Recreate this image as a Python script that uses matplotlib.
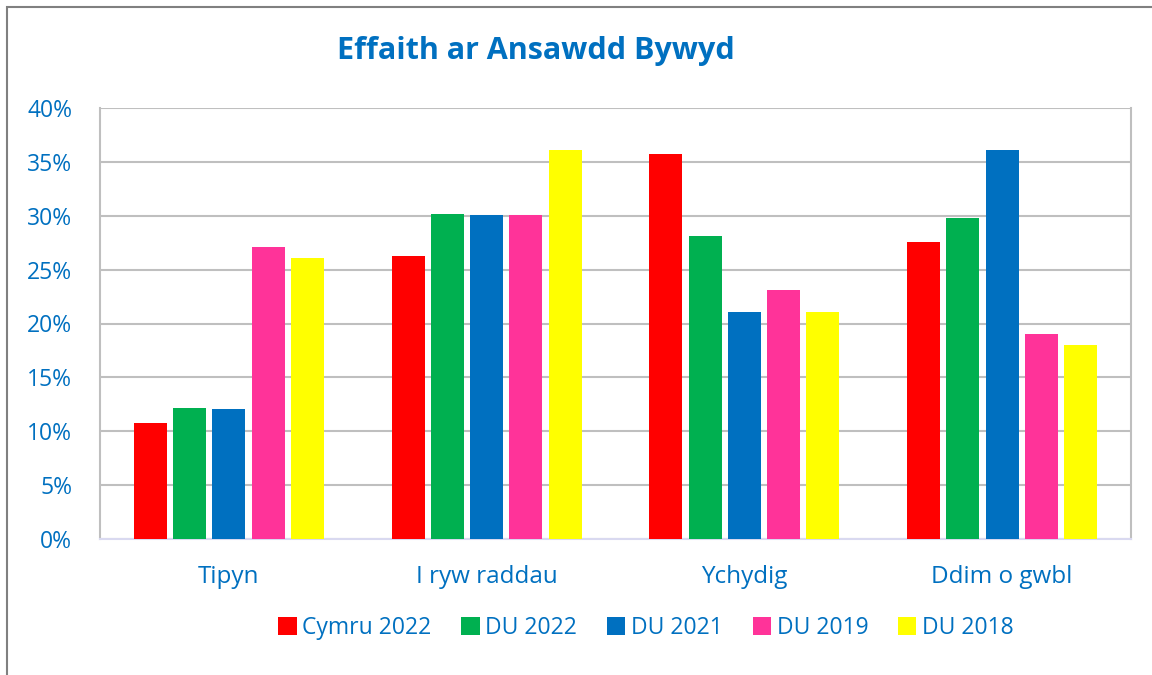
import numpy as np
import matplotlib.pyplot as plt
from matplotlib.patches import Rectangle

# Data
categories = ['Tipyn', 'I ryw raddau', 'Ychydig', 'Ddim o gwbl']
series_names = ['Cymru 2022', 'DU 2022', 'DU 2021', 'DU 2019', 'DU 2018']
cymru_2022 = [10.8, 26.3, 35.7, 27.6]
du_2022 = [12.2, 30.2, 28.1, 29.8]
du_2021 = [12.1, 30.1, 21.1, 36.1]
du_2019 = [27.1, 30.1, 23.1, 19.0]
du_2018 = [26.1, 36.1, 21.1, 18.0]
colours = ['#FF0000', '#00B050', '#0070C0', '#FF3399', '#FFFF00']

text_col = '#0070C0'
plt.rcParams['font.family'] = ['Open Sans', 'DejaVu Sans']

fig = plt.figure(figsize=(11.52, 6.75), dpi=100)
ax = fig.add_axes([100 / 1152, 1 - 539 / 675, 1031 / 1152, 431 / 675])

# outer chart border (left/top visible, rest cut off)
fig.patches.append(Rectangle((7 / 1152, -0.1), 1.2, 1 - 7 / 675 + 0.1,
                             transform=fig.transFigure, fill=False,
                             edgecolor='#808080', linewidth=1.5))

x = np.arange(len(categories))
width = 0.128
pitch = 0.1525
all_series = [cymru_2022, du_2022, du_2021, du_2019, du_2018]
for i, (name, vals) in enumerate(zip(series_names, all_series)):
    ax.bar(x + (i - 2) * pitch, vals, width, color=colours[i], label=name, zorder=3)

ax.set_xlim(-0.5, 3.5)
ax.set_ylim(0, 40)
ax.set_yticks(range(0, 41, 5))
ax.set_yticklabels([f'{v}%' for v in range(0, 41, 5)])
ax.set_xticks(x)
ax.set_xticklabels(categories)
ax.tick_params(axis='both', length=0, colors=text_col)
ax.tick_params(axis='y', pad=20, labelsize=16.5)
ax.tick_params(axis='x', pad=19, labelsize=17.5)

ax.grid(axis='y', color='#BFBFBF', linewidth=1.5, zorder=0)
ax.spines['top'].set_visible(False)
ax.spines['left'].set_color('#BFBFBF')
ax.spines['left'].set_linewidth(1.5)
ax.spines['right'].set_color('#BFBFBF')
ax.spines['right'].set_linewidth(1.5)
ax.spines['bottom'].set_color('#D9D9F0')
ax.spines['bottom'].set_linewidth(1.5)

fig.text(536 / 1152, 1 - 51 / 675, 'Effaith ar Ansawdd Bywyd', ha='center', va='center',
         fontsize=22, fontweight='bold', color=text_col)

leg = fig.legend(loc='center', bbox_to_anchor=(646 / 1152, 1 - 628 / 675), ncol=5,
                 frameon=False, fontsize=16.5, handlelength=0.8, handleheight=0.8,
                 handletextpad=0.25, columnspacing=1.3)
for t in leg.get_texts():
    t.set_color(text_col)

fig.savefig('out.png', dpi=100)
